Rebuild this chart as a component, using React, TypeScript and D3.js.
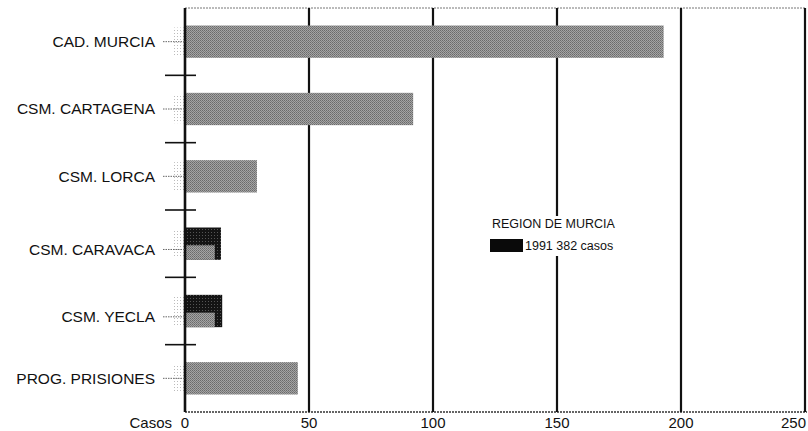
import { useEffect, useRef } from "react";
import * as d3 from "d3";

const categories = [
  "CAD. MURCIA",
  "CSM. CARTAGENA",
  "CSM. LORCA",
  "CSM. CARAVACA",
  "CSM. YECLA",
  "PROG. PRISIONES",
];
// grey bars (front)
const greyValues = [193, 92, 29, 12, 12, 45.5];
// black bars (1991), only drawn where present
const blackValues: (number | null)[] = [null, null, null, 14.5, 15, null];
const xTicks = [0, 50, 100, 150, 200, 250];
const legendTitle = "REGION DE MURCIA";
const legendLabel = "1991 382 casos";
const axisTitle = "Casos";

const W = 808;
const H = 431;
const FONT = "'Liberation Sans', Arial, Helvetica, sans-serif";

export default function App() {
  const ref = useRef<SVGSVGElement>(null);

  useEffect(() => {
    const svg = d3.select(ref.current!);
    svg.selectAll("*").remove();

    const m = { t: 8, l: 185, r: 805, b: 412 };
    const x = d3.scaleLinear().domain([0, 250]).range([m.l, m.r]);
    const y = d3
      .scaleBand<string>()
      .domain(categories)
      .range([m.t, m.b])
      .paddingInner(0.52)
      .paddingOuter(0.26);
    const bw = y.bandwidth();
    const step = y.step();

    const defs = svg.append("defs");
    const grey = defs
      .append("pattern")
      .attr("id", "grey")
      .attr("width", 2)
      .attr("height", 2)
      .attr("patternUnits", "userSpaceOnUse");
    grey.append("rect").attr("width", 2).attr("height", 2).attr("fill", "#a4a4a4");
    grey.append("rect").attr("width", 1).attr("height", 1).attr("fill", "#6a6a6a");
    grey.append("rect").attr("x", 1).attr("y", 1).attr("width", 1).attr("height", 1).attr("fill", "#7a7a7a");

    const dark = defs
      .append("pattern")
      .attr("id", "dark")
      .attr("width", 3)
      .attr("height", 3)
      .attr("patternUnits", "userSpaceOnUse");
    dark.append("rect").attr("width", 3).attr("height", 3).attr("fill", "#141414");
    dark.append("rect").attr("x", 1).attr("y", 1).attr("width", 1).attr("height", 1).attr("fill", "#555");

    const speck = defs
      .append("pattern")
      .attr("id", "speck")
      .attr("width", 3)
      .attr("height", 3)
      .attr("patternUnits", "userSpaceOnUse");
    speck.append("rect").attr("width", 1).attr("height", 1).attr("fill", "#bbb");

    // frame lines
    svg
      .append("line")
      .attr("x1", m.l)
      .attr("x2", m.r)
      .attr("y1", m.t)
      .attr("y2", m.t)
      .attr("stroke", "#777")
      .attr("stroke-width", 1)
      .attr("stroke-dasharray", "2,1");
    svg
      .append("line")
      .attr("x1", m.l)
      .attr("x2", m.r + 2)
      .attr("y1", m.b)
      .attr("y2", m.b)
      .attr("stroke", "#333")
      .attr("stroke-width", 1.4)
      .attr("stroke-dasharray", "2,1");

    // grid lines
    svg
      .append("g")
      .selectAll("line")
      .data(xTicks.slice(1))
      .enter()
      .append("line")
      .attr("x1", (d) => x(d))
      .attr("x2", (d) => x(d))
      .attr("y1", m.t)
      .attr("y2", m.b)
      .attr("stroke", "#111")
      .attr("stroke-width", 2.2);

    // shadow speckle left of axis
    svg
      .append("g")
      .selectAll("rect")
      .data(categories)
      .enter()
      .append("rect")
      .attr("x", m.l - 11)
      .attr("y", (d) => y(d)! + 2)
      .attr("width", 10)
      .attr("height", bw - 4)
      .attr("fill", "url(#speck)");

    // black bars
    svg
      .append("g")
      .selectAll("rect")
      .data(categories.map((c, i) => ({ c, v: blackValues[i] })).filter((d) => d.v !== null))
      .enter()
      .append("rect")
      .attr("x", m.l)
      .attr("y", (d) => y(d.c)!)
      .attr("width", (d) => x(d.v as number) - m.l)
      .attr("height", bw)
      .attr("fill", "url(#dark)");

    // grey bars
    svg
      .append("g")
      .selectAll("rect")
      .data(categories.map((c, i) => ({ c, v: greyValues[i], half: blackValues[i] !== null })))
      .enter()
      .append("rect")
      .attr("x", m.l)
      .attr("y", (d) => y(d.c)! + (d.half ? bw * 0.55 : 0))
      .attr("width", (d) => x(d.v) - m.l)
      .attr("height", (d) => (d.half ? bw * 0.45 : bw))
      .attr("fill", "url(#grey)");

    // left axis line
    svg
      .append("line")
      .attr("x1", m.l)
      .attr("x2", m.l)
      .attr("y1", m.t)
      .attr("y2", m.b)
      .attr("stroke", "#111")
      .attr("stroke-width", 2.6);

    // separators between categories
    svg
      .append("g")
      .selectAll("line")
      .data(categories.slice(1))
      .enter()
      .append("line")
      .attr("x1", m.l - 20)
      .attr("x2", m.l + 11)
      .attr("y1", (d) => y(d)! - (step - bw) / 2)
      .attr("y2", (d) => y(d)! - (step - bw) / 2)
      .attr("stroke", "#111")
      .attr("stroke-width", 1.6);

    // category labels + leader ticks
    const labelY = (c: string, i: number) =>
      blackValues[i] !== null ? y(c)! + bw * 0.68 : y(c)! + bw / 2;
    const cat = svg.append("g");
    cat
      .selectAll("line")
      .data(categories)
      .enter()
      .append("line")
      .attr("x1", m.l - 22)
      .attr("x2", m.l)
      .attr("y1", (d, i) => labelY(d, i))
      .attr("y2", (d, i) => labelY(d, i))
      .attr("stroke", "#666")
      .attr("stroke-width", 1)
      .attr("stroke-dasharray", "1.5,1");
    cat
      .selectAll("text")
      .data(categories)
      .enter()
      .append("text")
      .attr("x", 155)
      .attr("y", (d, i) => labelY(d, i))
      .attr("dy", "0.35em")
      .attr("text-anchor", "end")
      .style("font-family", FONT)
      .style("font-size", "15.5px")
      .style("fill", "#111")
      .text((d) => d);

    // x tick labels
    svg
      .append("g")
      .selectAll("text")
      .data(xTicks)
      .enter()
      .append("text")
      .attr("x", (d, i) => (i === xTicks.length - 1 ? x(d) + 1 : x(d)))
      .attr("y", 428)
      .attr("text-anchor", (d, i) => (i === xTicks.length - 1 ? "end" : "middle"))
      .style("font-family", FONT)
      .style("font-size", "15px")
      .style("fill", "#111")
      .text((d) => d);
    svg
      .append("text")
      .attr("x", 172)
      .attr("y", 428)
      .attr("text-anchor", "end")
      .style("font-family", FONT)
      .style("font-size", "15px")
      .style("fill", "#111")
      .text(axisTitle);

    // legend
    const lg = svg.append("g");
    lg.append("rect").attr("x", 490).attr("y", 216).attr("width", 134).attr("height", 40).attr("fill", "#fff");
    lg.append("text")
      .attr("x", 492)
      .attr("y", 228)
      .style("font-family", FONT)
      .style("font-size", "12.5px")
      .style("fill", "#111")
      .text(legendTitle);
    lg.append("rect").attr("x", 490).attr("y", 239).attr("width", 33).attr("height", 13).attr("fill", "#0a0a0a");
    lg.append("text")
      .attr("x", 525)
      .attr("y", 250)
      .style("font-family", FONT)
      .style("font-size", "12.5px")
      .style("fill", "#111")
      .text(legendLabel);
  }, []);

  return (
    <svg
      ref={ref}
      width={W}
      height={H}
      style={{ position: "absolute", left: 0, top: 0, background: "#fff" }}
    />
  );
}
